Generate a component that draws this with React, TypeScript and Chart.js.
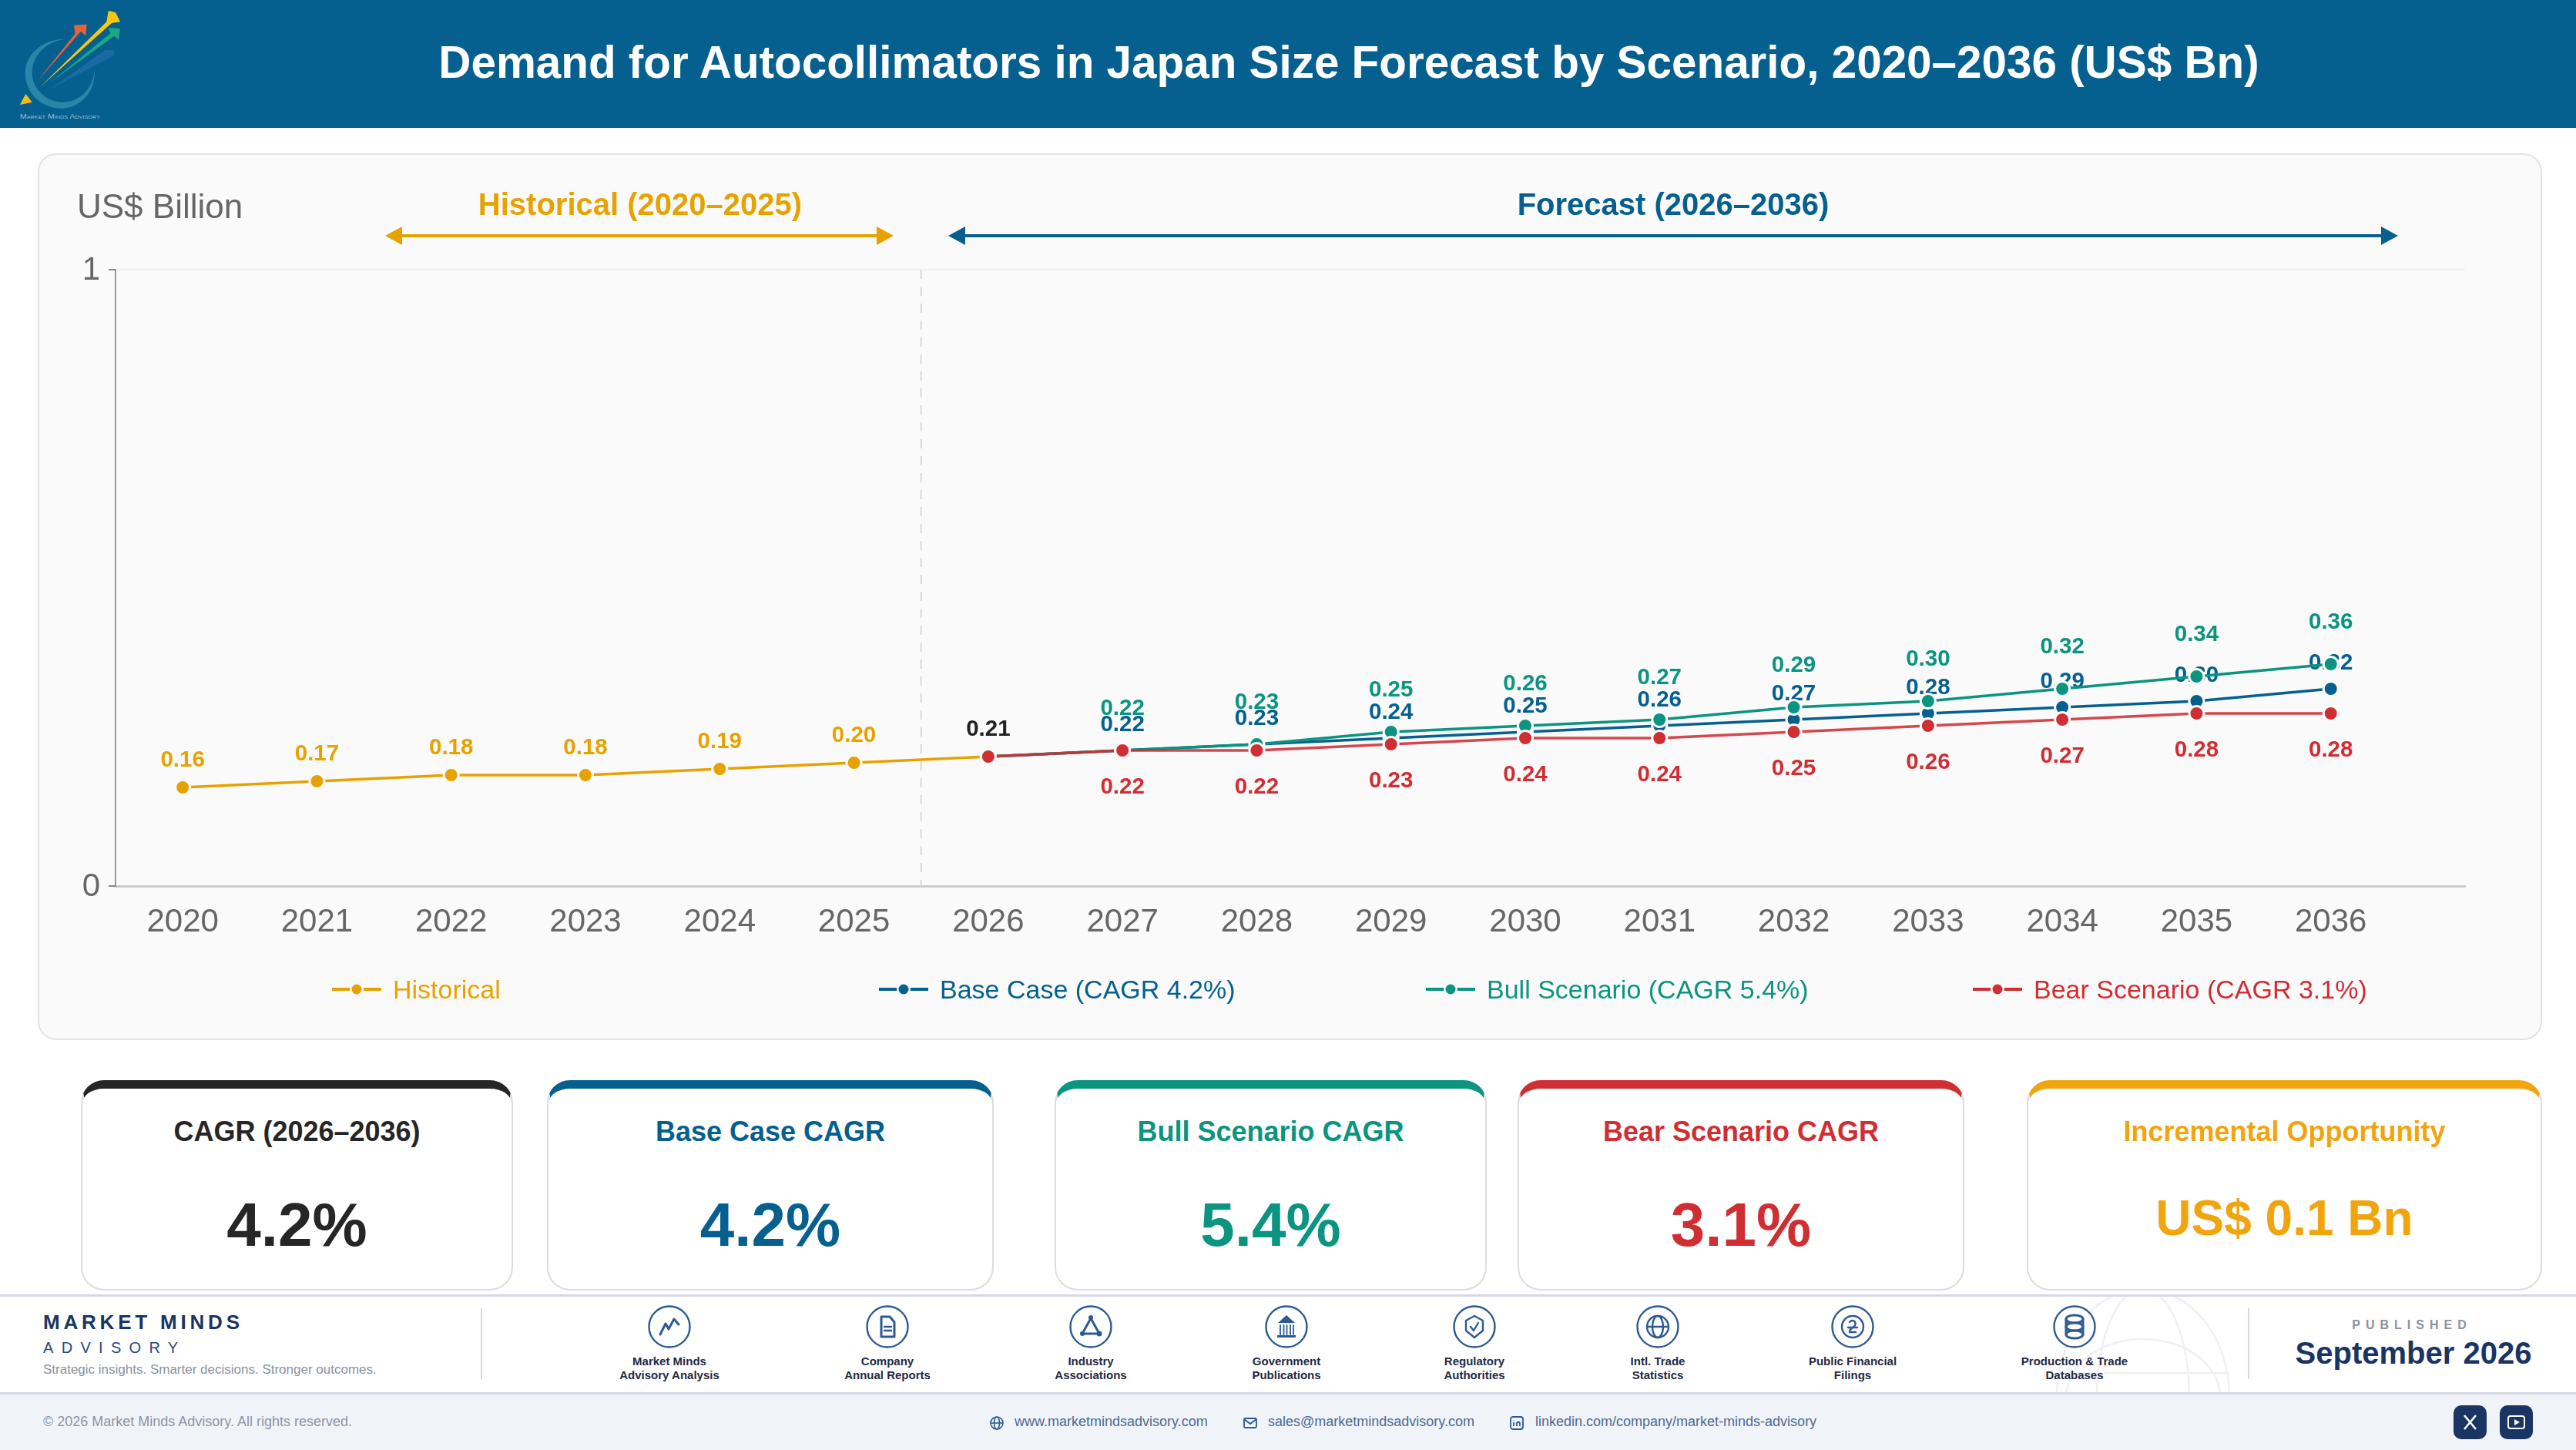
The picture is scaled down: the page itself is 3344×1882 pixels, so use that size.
import { useEffect, useRef } from "react"
import { Chart, registerables, type Plugin } from "chart.js"

Chart.register(...registerables)

const FONT = '"Liberation Sans", Arial, sans-serif'

const years = [2020, 2021, 2022, 2023, 2024, 2025, 2026, 2027, 2028, 2029, 2030, 2031, 2032, 2033, 2034, 2035, 2036]
const historical = [0.16, 0.17, 0.18, 0.18, 0.19, 0.2, 0.21, null, null, null, null, null, null, null, null, null, null]
const baseCase = [null, null, null, null, null, null, 0.21, 0.22, 0.23, 0.24, 0.25, 0.26, 0.27, 0.28, 0.29, 0.3, 0.32]
const bullCase = [null, null, null, null, null, null, 0.21, 0.22, 0.23, 0.25, 0.26, 0.27, 0.29, 0.3, 0.32, 0.34, 0.36]
const bearCase = [null, null, null, null, null, null, 0.21, 0.22, 0.22, 0.23, 0.24, 0.24, 0.25, 0.26, 0.27, 0.28, 0.28]

const AMBER = "#e8a200"
const BLUE = "#05608f"
const TEAL = "#0b947f"
const RED = "#cf2e33"
const NAVY = "#1a3563"

const legendItems = [
  { label: "Historical", color: AMBER },
  { label: "Base Case (CAGR 4.2%)", color: BLUE },
  { label: "Bull Scenario (CAGR 5.4%)", color: TEAL },
  { label: "Bear Scenario (CAGR 3.1%)", color: RED },
]

const cards = [
  { title: "CAGR (2026–2036)", value: "4.2%", color: "#262626", left: 105, right: 666 },
  { title: "Base Case CAGR", value: "4.2%", color: BLUE, left: 710, right: 1290 },
  { title: "Bull Scenario CAGR", value: "5.4%", color: TEAL, left: 1369, right: 1930 },
  { title: "Bear Scenario CAGR", value: "3.1%", color: RED, left: 1970, right: 2550 },
  { title: "Incremental Opportunity", value: "US$ 0.1 Bn", color: "#f0a50f", left: 2631, right: 3300 },
]

const sources = [
  { lines: ["Market Minds", "Advisory Analysis"], x: 869, icon: "trend" },
  { lines: ["Company", "Annual Reports"], x: 1152, icon: "doc" },
  { lines: ["Industry", "Associations"], x: 1416, icon: "network" },
  { lines: ["Government", "Publications"], x: 1670, icon: "bank" },
  { lines: ["Regulatory", "Authorities"], x: 1914, icon: "shield" },
  { lines: ["Intl. Trade", "Statistics"], x: 2152, icon: "globe" },
  { lines: ["Public Financial", "Filings"], x: 2405, icon: "coin" },
  { lines: ["Production & Trade", "Databases"], x: 2693, icon: "db" },
]

// value labels sit under the markers, base case over bull
const labelOrder = [0, 2, 1, 3]
const valueLabels: Plugin<"line"> = {
  id: "valueLabels",
  beforeDatasetsDraw(chart) {
    const { ctx } = chart
    ctx.save()
    ctx.font = `bold 29.5px ${FONT}`
    ctx.textAlign = "center"
    ctx.textBaseline = "middle"
    labelOrder.forEach((i) => {
      const ds: any = chart.data.datasets[i]
      chart.getDatasetMeta(i).data.forEach((pt: any, j) => {
        const v = ds.data[j].y
        if (v == null || j < ds.labelFrom) return
        ctx.fillStyle = years[j] === 2026 ? "#222222" : ds.labelColor
        ctx.fillText(v.toFixed(2), pt.x, pt.y + ds.labelOffset)
      })
    })
    ctx.restore()
  },
}

const divider: Plugin<"line"> = {
  id: "divider",
  beforeDatasetsDraw(chart) {
    const { ctx, chartArea, scales } = chart
    const x = scales.x.getPixelForValue(2025.5)
    ctx.save()
    ctx.strokeStyle = "#d9d9d9"
    ctx.lineWidth = 2
    ctx.setLineDash([12, 10])
    ctx.beginPath()
    ctx.moveTo(x, chartArea.top)
    ctx.lineTo(x, chartArea.bottom)
    ctx.stroke()
    ctx.restore()
  },
}

function makeDataset(label: string, values: (number | null)[], color: string, lineColor: string, offset: number, from: number, order: number) {
  return {
    label,
    data: years.map((x, i) => ({ x, y: values[i] })),
    borderColor: lineColor,
    backgroundColor: color,
    borderWidth: 3.5,
    pointRadius: 9.5,
    pointBorderWidth: 3,
    pointBorderColor: "#fafafa",
    pointBackgroundColor: color,
    tension: 0,
    order,
    labelColor: color,
    labelOffset: offset,
    labelFrom: from,
  }
}

function TrendChart() {
  const canvasRef = useRef<HTMLCanvasElement | null>(null)

  useEffect(() => {
    if (!canvasRef.current) return
    const chart = new Chart(canvasRef.current, {
      type: "line",
      data: {
        datasets: [
          makeDataset("Historical", historical, AMBER, AMBER, -35, 0, 4),
          makeDataset("Base Case (CAGR 4.2%)", baseCase, BLUE, BLUE, -33, 7, 3),
          makeDataset("Bull Scenario (CAGR 5.4%)", bullCase, TEAL, TEAL, -54, 7, 2),
          makeDataset("Bear Scenario (CAGR 3.1%)", bearCase, RED, "rgba(207, 46, 51, 0.88)", 48, 7, 1),
        ] as any,
      },
      options: {
        responsive: false,
        animation: false,
        devicePixelRatio: 1,
        layout: { padding: { left: 0, top: 150, right: 100, bottom: 0 } },
        plugins: { legend: { display: false }, title: { display: false }, tooltip: { enabled: false } },
        scales: {
          x: {
            type: "linear",
            min: 2019.5,
            max: 2037,
            afterBuildTicks(scale) {
              scale.ticks = years.map((value) => ({ value }))
            },
            afterFit(scale) {
              scale.height = 201
            },
            grid: { drawOnChartArea: false, drawTicks: false },
            border: { color: "#cccccc", width: 3 },
            ticks: {
              autoSkip: false,
              maxRotation: 0,
              padding: 22,
              color: "#666666",
              font: { family: FONT, size: 42 },
              callback: (v) => String(v),
            },
          },
          y: {
            min: 0,
            max: 1,
            afterFit(scale) {
              scale.width = 101
            },
            grid: { color: "#eeeeee", lineWidth: 2, tickColor: "#888888", tickLength: 9 },
            border: { color: "#7a7a7a", width: 1.5 },
            ticks: { stepSize: 1, padding: 11, labelOffset: 1, color: "#666666", font: { family: FONT, size: 42 } },
          },
        },
      },
      plugins: [valueLabels, divider],
    })
    return () => chart.destroy()
  }, [])

  return <canvas ref={canvasRef} width={3251} height={1151} style={{ position: "absolute", left: 49, top: 200, width: 3251, height: 1151 }} />
}

function Txt({ x, y, size, color, bold, align = "center", spacing, children }: any) {
  const tx = align === "center" ? "-50%" : "0"
  return (
    <div
      style={{
        position: "absolute",
        left: x,
        top: y,
        transform: `translate(${tx}, -50%)`,
        fontSize: size,
        lineHeight: 1.2,
        color,
        fontWeight: bold ? 700 : 400,
        letterSpacing: spacing,
        whiteSpace: "nowrap",
      }}
    >
      {children}
    </div>
  )
}

function Logo() {
  return (
    <svg style={{ position: "absolute", left: 10, top: 0 }} width={170} height={166} viewBox="0 0 510 498">
      <path d="M 225 152 C 130 150 65 220 68 290 C 72 370 140 425 215 422 C 290 418 345 350 338 268 C 335 340 285 398 215 398 C 150 398 95 345 95 285 C 95 215 150 160 225 152 Z" fill="#2a86a8" />
      <polygon points="160,350 380,195 415,195 415,215" fill="#1f6da5" opacity={0.8} />
      <polygon points="165,322 400,130 392,108 438,112 432,155 415,140" fill="#1aa784" />
      <polygon points="112,320 262,132 258,98 308,95 304,140 285,122" fill="#e8603c" />
      <polygon points="125,340 385,85 392,42 420,48 438,85 405,90" fill="#f7c613" />
      <polygon points="70,365 48,408 95,398" fill="#f7b91a" />
      <text x={48} y={461} fontSize={26} fontFamily={FONT} fill="#9dbfd4" textLength={312} lengthAdjust="spacingAndGlyphs" style={{ fontVariant: "small-caps" }}>
        Market Minds Advisory
      </text>
    </svg>
  )
}

function Arrow({ x1, x2, y, color }: { x1: number; x2: number; y: number; color: string }) {
  return (
    <svg style={{ position: "absolute", left: x1, top: y - 14 }} width={x2 - x1} height={28}>
      <line x1={20} x2={x2 - x1 - 20} y1={14} y2={14} stroke={color} strokeWidth={4} />
      <polygon points="0,14 22,2 22,26" fill={color} />
      <polygon points={`${x2 - x1},14 ${x2 - x1 - 22},2 ${x2 - x1 - 22},26`} fill={color} />
    </svg>
  )
}

function LegendRow() {
  return (
    <>
      {legendItems.map((item, i) => {
        const left = 431 + i * 710
        return (
          <div key={item.label}>
            <svg style={{ position: "absolute", left, top: 1274 }} width={64} height={20}>
              <line x1={0} x2={64} y1={10} y2={10} stroke={item.color} strokeWidth={4} />
              <circle cx={32} cy={10} r={9} fill="#fafafa" />
              <circle cx={32} cy={10} r={6.5} fill={item.color} />
            </svg>
            <Txt x={left + 79} y={1284} size={34} color={item.color} align="left">
              {item.label}
            </Txt>
          </div>
        )
      })}
    </>
  )
}

function SourceIcon({ name }: { name: string }) {
  const c = "#2d5a94"
  const common = { fill: "none", stroke: c, strokeWidth: 2.4, strokeLinejoin: "round" as const, strokeLinecap: "round" as const }
  return (
    <svg width={56} height={56} viewBox="0 0 56 56" style={{ display: "block" }}>
      <circle cx={28} cy={28} r={26.5} fill="#ffffff" stroke={c} strokeWidth={2.4} />
      {name === "trend" && <path d="M 16 38 L 23 24 L 27 31 L 34 18 L 40 25" {...common} strokeWidth={3} />}
      {name === "doc" && (
        <>
          <path d="M 20 15 H 31 L 37 22 V 41 H 20 Z" {...common} strokeWidth={3} />
          <path d="M 24 28 H 33 M 24 33 H 33" {...common} />
        </>
      )}
      {name === "network" && (
        <>
          <path d="M 28 17 L 17 37 H 39 Z" {...common} strokeWidth={3} />
          <circle cx={28} cy={16} r={3} fill={c} />
          <circle cx={17} cy={37} r={3} fill={c} />
          <circle cx={39} cy={37} r={3.5} fill={c} />
        </>
      )}
      {name === "bank" && (
        <>
          <polygon points="28,13 39,23 17,23" fill={c} />
          <path d="M 20 26 V 38 M 24.5 26 V 38 M 28.5 26 V 38 M 33 26 V 38 M 37 26 V 38" {...common} strokeWidth={1.8} />
          <rect x={16} y={39} width={24} height={3} fill={c} />
        </>
      )}
      {name === "shield" && (
        <>
          <path d="M 28 14 L 39 20 V 33 L 28 42 L 17 33 V 20 Z" {...common} />
          <path d="M 23 28 L 27 33 L 33 23" {...common} />
        </>
      )}
      {name === "globe" && (
        <>
          <circle cx={28} cy={28} r={14} {...common} />
          <path d="M 14 28 H 42" {...common} />
          <ellipse cx={28} cy={28} rx={7} ry={14} {...common} />
        </>
      )}
      {name === "coin" && (
        <>
          <circle cx={28} cy={28} r={14} {...common} />
          <path d="M 24 22 C 28 18 33 21 31 26 C 29 30 24 30 24 35 H 32 M 22 29 H 34" {...common} />
        </>
      )}
      {name === "db" && (
        <>
          <ellipse cx={28} cy={18} rx={11} ry={5} {...common} strokeWidth={3} />
          <ellipse cx={28} cy={28} rx={11} ry={5} {...common} strokeWidth={3} />
          <ellipse cx={28} cy={38} rx={11} ry={5} {...common} strokeWidth={3} />
          <path d="M 17 18 V 38 M 39 18 V 38" {...common} strokeWidth={3} />
        </>
      )}
    </svg>
  )
}

function Footer() {
  return (
    <>
      <div style={{ position: "absolute", left: 0, top: 1680, width: 3344, height: 3, background: "#d5d8e5" }} />
      <div style={{ position: "absolute", left: 0, top: 1807, width: 3344, height: 75, background: "#f0f4f9", borderTop: "3px solid #d5d8e5", boxSizing: "border-box" }} />
      <svg style={{ position: "absolute", left: 2660, top: 1683, opacity: 0.9 }} width={240} height={124} fill="none" stroke="#eeeff3" strokeWidth={2.5}>
        <ellipse cx={122} cy={130} rx={112} ry={140} />
        <ellipse cx={122} cy={130} rx={60} ry={140} />
        <ellipse cx={122} cy={130} rx={100} ry={75} />
        <line x1={10} x2={234} y1={99} y2={99} />
      </svg>
      <Txt x={56} y={1717} size={26} color={NAVY} bold align="left" spacing={4.8}>
        MARKET MINDS
      </Txt>
      <Txt x={56} y={1749} size={20} color="#2d4a7c" align="left" spacing={10.3}>
        ADVISORY
      </Txt>
      <Txt x={56} y={1778} size={17} color="#8a929e" align="left">
        Strategic insights. Smarter decisions. Stronger outcomes.
      </Txt>
      <div style={{ position: "absolute", left: 624, top: 1698, width: 2, height: 92, background: "#d3d7e0" }} />
      <div style={{ position: "absolute", left: 2918, top: 1698, width: 2, height: 92, background: "#d3d7e0" }} />
      {sources.map((s) => (
        <div key={s.lines[0]}>
          <div style={{ position: "absolute", left: s.x - 28, top: 1694 }}>
            <SourceIcon name={s.icon} />
          </div>
          <Txt x={s.x} y={1767} size={15} color="#1f2a44" bold>
            {s.lines[0]}
          </Txt>
          <Txt x={s.x} y={1785} size={15} color="#1f2a44" bold>
            {s.lines[1]}
          </Txt>
        </div>
      ))}
      <Txt x={3131} y={1720} size={16} color="#8b93a0" bold spacing={7}>
        PUBLISHED
      </Txt>
      <Txt x={3133} y={1756} size={40} color={NAVY} bold>
        September 2026
      </Txt>
      <Txt x={56} y={1846} size={18} color="#8c95a5" align="left">
        © 2026 Market Minds Advisory. All rights reserved.
      </Txt>
      <svg style={{ position: "absolute", left: 1284, top: 1837 }} width={20} height={20} fill="none" stroke="#2d5a94" strokeWidth={1.6}>
        <circle cx={10} cy={10} r={8} />
        <ellipse cx={10} cy={10} rx={3.5} ry={8} />
        <line x1={2} x2={18} y1={10} y2={10} />
      </svg>
      <Txt x={1317} y={1846} size={18} color="#4a6a94" align="left">
        www.marketmindsadvisory.com
      </Txt>
      <svg style={{ position: "absolute", left: 1613, top: 1837 }} width={20} height={20} fill="none" stroke="#2d5a94" strokeWidth={1.8}>
        <rect x={2} y={4} width={16} height={12} rx={1.5} />
        <path d="M 2 5 L 10 11 L 18 5" />
      </svg>
      <Txt x={1646} y={1846} size={18} color="#4a6a94" align="left">
        sales@marketmindsadvisory.com
      </Txt>
      <svg style={{ position: "absolute", left: 1959, top: 1837 }} width={20} height={20} fill="none" stroke="#2d5a94" strokeWidth={1.8}>
        <rect x={2} y={2} width={16} height={16} rx={3} />
        <path d="M 6 9 V 14 M 6 6 V 6.5 M 10 14 V 9 M 10 11 C 10 8 14 8 14 11 V 14" />
      </svg>
      <Txt x={1993} y={1846} size={18} color="#4a6a94" align="left">
        linkedin.com/company/market-minds-advisory
      </Txt>
      <svg style={{ position: "absolute", left: 3185, top: 1824 }} width={104} height={44}>
        <rect x={0} y={0} width={43} height={44} rx={10} fill={NAVY} />
        <path d="M 14 13 L 29 31 M 29 13 L 14 31" stroke="#ffffff" strokeWidth={2.6} />
        <rect x={60} y={0} width={43} height={44} rx={10} fill={NAVY} />
        <rect x={71} y={14} width={21} height={16} rx={3} fill="none" stroke="#ffffff" strokeWidth={2} />
        <polygon points="79,18 86,22 79,26" fill="#ffffff" />
      </svg>
    </>
  )
}

export default function App() {
  return (
    <div style={{ position: "absolute", left: 0, top: 0, width: 3344, height: 1882, overflow: "hidden", background: "#ffffff", fontFamily: FONT }}>
      <div style={{ position: "absolute", left: 0, top: 0, width: 3344, height: 166, background: BLUE }} />
      <Logo />
      <Txt x={1751} y={81} size={58.4} color="#ffffff" bold>
        Demand for Autocollimators in Japan Size Forecast by Scenario, 2020–2036 (US$ Bn)
      </Txt>

      <div style={{ position: "absolute", left: 49, top: 199, width: 3251, height: 1151, boxSizing: "border-box", background: "#fafafa", border: "2px solid #e3e3e3", borderRadius: 24 }} />
      <TrendChart />
      <Txt x={100} y={268} size={44} color="#666666" align="left">
        US$ Billion
      </Txt>
      <Txt x={831} y={265} size={40} color={AMBER} bold>
        Historical (2020–2025)
      </Txt>
      <Txt x={2172} y={265} size={40} color={BLUE} bold>
        Forecast (2026–2036)
      </Txt>
      <Arrow x1={500} x2={1160} y={306} color={AMBER} />
      <Arrow x1={1231} x2={3113} y={306} color={BLUE} />
      <LegendRow />

      {cards.map((card) => (
        <div key={card.title}>
          <div
            style={{
              position: "absolute",
              left: card.left,
              top: 1402,
              width: card.right - card.left,
              height: 273,
              boxSizing: "border-box",
              background: "#ffffff",
              border: "2px solid #dcdde2",
              borderTop: `11px solid ${card.color}`,
              borderRadius: 30,
            }}
          />
          <Txt x={(card.left + card.right) / 2} y={1469} size={36} color={card.color} bold>
            {card.title}
          </Txt>
          <Txt x={(card.left + card.right) / 2} y={card.value.length > 5 ? 1581 : 1590} size={card.value.length > 5 ? 64 : 80} color={card.color} bold>
            {card.value}
          </Txt>
        </div>
      ))}

      <Footer />
    </div>
  )
}
